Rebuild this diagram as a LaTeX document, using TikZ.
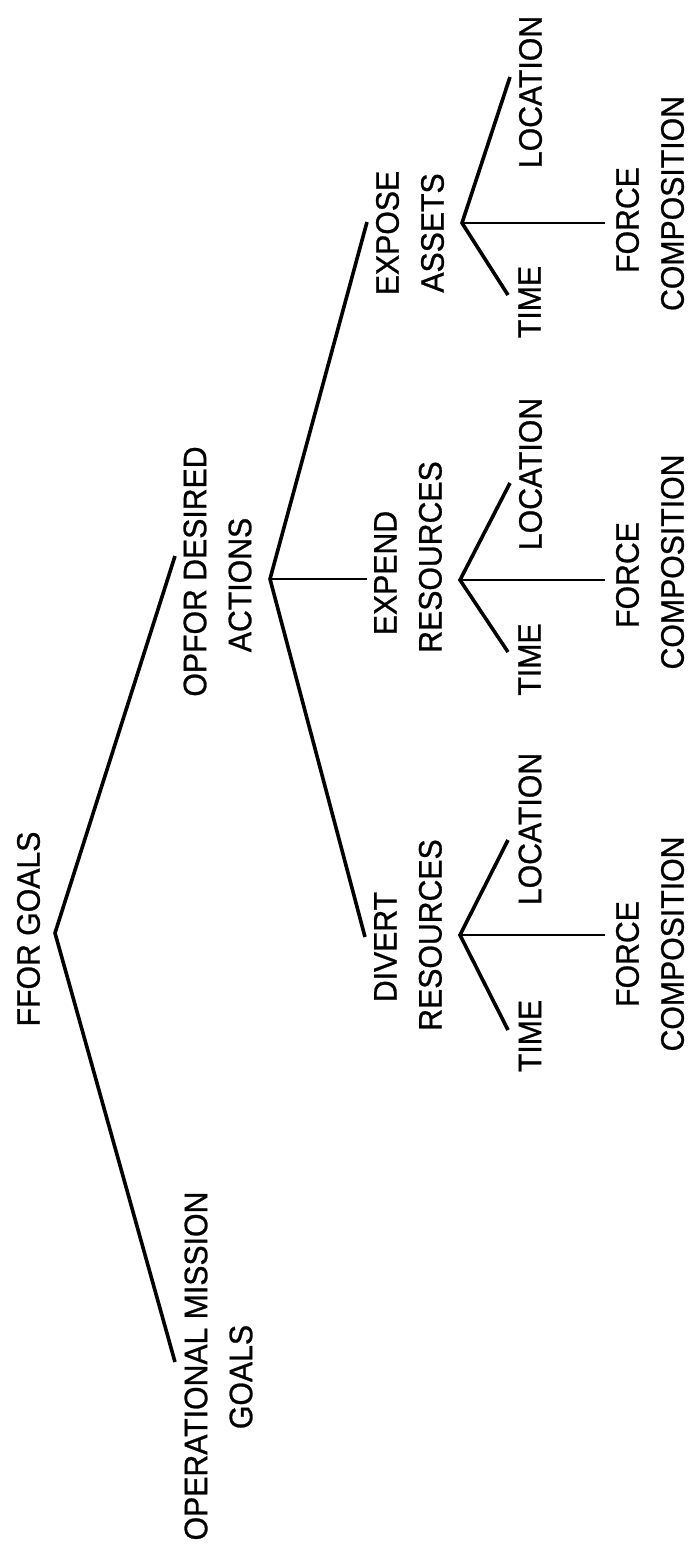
\documentclass[tikz,border=0pt]{standalone}
\usepackage{fontspec}
\setmainfont{Liberation Sans}[FakeStretch=0.93,FakeBold=0.8]
\begin{document}
\begin{tikzpicture}[x=0.5pt,y=0.5pt,
  lbl/.style={rotate=90, inner sep=0pt, align=center,
    font=\fontsize{16.25pt}{22.5pt}\selectfont},
  branch/.style={line width=1.8pt, line join=miter},
  stem/.style={line width=1.1pt}]
\fill[white] (0,0) rectangle (690,-1558);
\useasboundingbox (0,0) rectangle (690,-1558);

% labels
\node[lbl] (ffor) at (28.5,-929) {FFOR GOALS};
\node[lbl] (opm) at (218.5,-1366) {OPERATIONAL MISSION\\\mbox{GOALS\kern11pt}};
\node[lbl] (opfor) at (217.5,-571.5) {OPFOR DESIRED\\\mbox{ACTIONS\kern13.5pt}};
\node[lbl] (expose) at (410,-233) {EXPOSE\\ASSETS};
\node[lbl] (expend) at (408,-573) {EXPEND\\\mbox{\kern16pt RESOURCES}};
\node[lbl] (divert) at (408,-947) {DIVERT\\\mbox{\kern12pt RESOURCES}};

\node[lbl] (aloc) at (530.5,-92) {LOCATION};
\node[lbl] (atime) at (529.5,-302) {TIME};
\node[lbl] (aforce) at (650,-220) {FORCE\\\mbox{\kern16.5pt COMPOSITION}};

\node[lbl] (eloc) at (530.5,-474) {LOCATION};
\node[lbl] (etime) at (529.5,-659.5) {TIME};
\node[lbl] (eforce) at (650,-575) {FORCE\\\mbox{\kern13pt COMPOSITION}};

\node[lbl] (dloc) at (530,-829) {LOCATION};
\node[lbl] (dtime) at (530,-1036) {TIME};
\node[lbl] (dforce) at (650,-954) {FORCE\\\mbox{\kern10pt COMPOSITION}};

% branch points and line ends
\coordinate (fforv) at (55,-933);
\coordinate (opme) at (175,-1362);
\coordinate (opfore) at (175,-556);

\coordinate (opforv) at (270,-579);
\coordinate (exposee) at (367,-222);
\coordinate (expende) at (367,-579);
\coordinate (diverte) at (365,-937);

\coordinate (av) at (462,-223);
\coordinate (aloce) at (510,-77);
\coordinate (aforcee) at (605,-223);
\coordinate (atimee) at (508,-295);

\coordinate (ev) at (460,-580);
\coordinate (eloce) at (510,-483);
\coordinate (eforcee) at (605,-580);
\coordinate (etimee) at (508,-652);

\coordinate (dv) at (460,-935);
\coordinate (dloce) at (508,-840);
\coordinate (dforcee) at (605,-935);
\coordinate (dtimee) at (508,-1030);

% connectors
\draw[branch] (opfore) -- (fforv) -- (opme);
\draw[branch] (exposee) -- (opforv) -- (diverte);
\draw[stem] (opforv) -- (expende);

\draw[branch] (aloce) -- (av) -- (atimee);
\draw[stem] (av) -- (aforcee);
\draw[branch] (eloce) -- (ev) -- (etimee);
\draw[stem] (ev) -- (eforcee);
\draw[branch] (dloce) -- (dv) -- (dtimee);
\draw[stem] (dv) -- (dforcee);
\end{tikzpicture}
\end{document}
